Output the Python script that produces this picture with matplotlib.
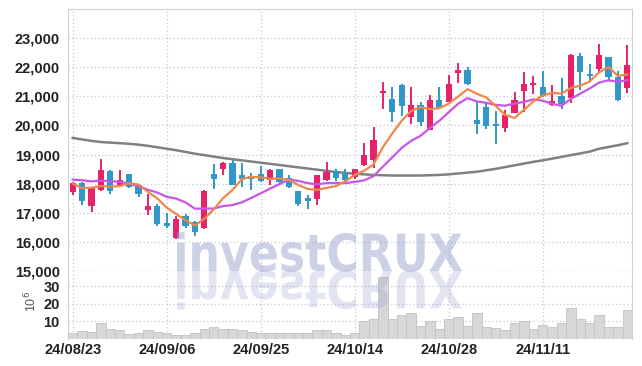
import numpy as np
import matplotlib
matplotlib.use("Agg")
import matplotlib.pyplot as plt
from matplotlib.font_manager import FontProperties
from matplotlib.textpath import TextPath
from matplotlib.patches import PathPatch
from matplotlib.transforms import Affine2D

# daily candles, 24/08/23 .. 24/11/22
opens = [17700, 18020, 17230, 17770, 18425, 17965, 18320, 17940, 17080, 17220,
         16645, 16150, 16900, 16700, 16470, 18330, 18490, 18720, 18310, 18265,
         18345, 18115, 18490, 18195, 17735, 17505, 17480, 18115, 18425, 18345,
         18220, 18635, 18805, 21120, 20925, 21380, 20295, 20695, 19860, 20865,
         20810, 21805, 21900, 20180, 20640, 20040, 19920, 20430, 21175, 21380,
         21310, 20695, 21000, 20945, 22400, 21745, 21950, 22340, 21665, 21290]
highs = [18050, 18050, 17880, 18860, 18460, 18460, 18330, 17950, 17655, 17310,
         16990, 16890, 16960, 16730, 17770, 18690, 18730, 18800, 18720, 18380,
         18610, 18520, 18520, 18310, 17740, 17620, 18300, 18750, 18490, 18520,
         18510, 19380, 19950, 21495, 21325, 21440, 21325, 20810, 21040, 21325,
         21725, 22150, 22010, 20810, 20810, 20490, 20545, 21140, 21835, 21690,
         21880, 21400, 21630, 22440, 22485, 22120, 22790, 22350, 21880, 22750]
lows = [17600, 17250, 17035, 17750, 17630, 17960, 17850, 17540, 16910, 16550,
        16480, 16090, 16480, 16210, 16450, 17830, 18310, 17950, 17885, 17770,
        18070, 17965, 18035, 17850, 17230, 17140, 17275, 18100, 18080, 18055,
        18150, 18620, 18550, 20580, 20120, 20315, 20040, 19970, 19850, 20600,
        20800, 21460, 21400, 19720, 19870, 19350, 19770, 20420, 20465, 21095,
        20990, 20660, 20580, 20775, 21230, 21515, 21800, 21575, 20830, 21120]
closes = [18020, 17390, 17860, 18480, 17735, 18115, 17885, 17630, 17220, 16620,
          16530, 16800, 16540, 16330, 17745, 18170, 18720, 17965, 18170, 18150,
          18080, 18460, 18060, 17885, 17285, 17415, 18290, 18400, 18195, 18115,
          18500, 19000, 19490, 21175, 20465, 20670, 20695, 20120, 20865, 20615,
          21440, 21900, 21415, 20065, 19985, 19980, 20375, 20890, 21425, 21460,
          21000, 20830, 20740, 22430, 21835, 21710, 22405, 21665, 20890, 22085]
volumes = [3.3, 4.6, 4.0, 9.4, 5.5, 5.0, 2.7, 3.3, 5.0, 4.0,
           3.3, 2.5, 2.5, 3.3, 5.5, 6.7, 5.5, 5.9, 5.0, 4.0,
           3.3, 3.3, 3.3, 3.3, 3.3, 3.3, 5.0, 5.0, 3.3, 2.5,
           3.3, 10.1, 11.6, 35.1, 11.3, 13.5, 14.7, 7.4, 10.1, 5.5,
           11.6, 12.8, 7.4, 14.7, 6.7, 6.1, 5.0, 9.0, 10.1, 5.5,
           7.8, 6.7, 9.0, 17.9, 11.6, 9.0, 13.5, 6.7, 6.7, 16.4]

# moving averages as drawn
ma5 = [18000, 17850, 17860, 17920, 17897, 17916, 18015, 17969, 17717, 17494,
       17177, 16960, 16742, 16564, 16789, 17117, 17501, 17786, 18154, 18235,
       18217, 18165, 18183, 18126, 17953, 17820, 17786, 17855, 17917, 18083,
       18300, 18442, 18660, 19256, 19726, 20160, 20499, 20625, 20563, 20593,
       20747, 20988, 21247, 21087, 20961, 20669, 20364, 20259, 20531, 20826,
       21030, 21121, 21091, 21292, 21367, 21509, 21824, 22009, 21701, 21751]
ma10 = [18140, 18115, 18080, 18100, 18090, 18060, 18000, 17910, 17790, 17696,
        17547, 17488, 17356, 17141, 17142, 17147, 17231, 17264, 17359, 17512,
        17667, 17833, 17985, 18140, 18094, 18019, 17976, 18019, 18022, 18018,
        18060, 18114, 18258, 18587, 18905, 19230, 19471, 19643, 19910, 20160,
        20454, 20744, 20936, 20825, 20777, 20708, 20676, 20753, 20809, 20894,
        20850, 20743, 20675, 20912, 21097, 21270, 21473, 21550, 21497, 21559]
ma60 = [19570, 19520, 19470, 19430, 19410, 19390, 19370, 19340, 19300, 19250,
        19200, 19150, 19090, 19030, 18980, 18930, 18880, 18840, 18800, 18760,
        18720, 18680, 18640, 18600, 18560, 18520, 18480, 18440, 18400, 18370,
        18340, 18320, 18300, 18290, 18280, 18280, 18280, 18280, 18290, 18300,
        18320, 18350, 18380, 18410, 18460, 18510, 18570, 18630, 18690, 18750,
        18800, 18860, 18920, 18980, 19040, 19100, 19200, 19260, 19320, 19390]

date_ticks = [0, 10, 20, 30, 40, 50]
date_labels = ['24/08/23', '24/09/06', '24/09/25', '24/10/14', '24/10/28', '24/11/11']

UP = '#e6226b'
DOWN = '#3197c8'
GRID = '#c6c6da'
plt.rcParams['font.family'] = ['Liberation Sans', 'DejaVu Sans']
LS = 10.5

W, H = 642, 366
fig = plt.figure(figsize=(W / 100, H / 100), dpi=100)
left = 68 / W
width = (632 - 68) / W
ax = fig.add_axes([left, (H - 271) / H, width, (271 - 9) / H])
axv = fig.add_axes([left, (H - 339) / H, width, (339 - 271) / H], sharex=ax)

x = np.arange(len(closes))
o = np.array(opens)
c = np.array(closes)
colors = [UP if cc >= oo else DOWN for oo, cc in zip(o, c)]

ax.vlines(x, lows, highs, colors=colors, linewidth=1.4, zorder=3)
body = np.maximum(np.abs(c - o), 40)
ax.bar(x, body, bottom=np.minimum(o, c), width=0.66, color=colors, zorder=4)

ax.plot(x, ma60, color='#808080', linewidth=1.8, zorder=2)
ax.plot(x, ma10, color='#c955ea', linewidth=1.6, zorder=5)
ax.plot(x, ma5, color='#f0874a', linewidth=1.6, zorder=5)

ax.set_xlim(-0.5, len(closes) - 0.5)
ax.set_ylim(15000, 24000)
ax.set_yticks(range(15000, 24000, 1000))
ax.set_yticklabels([f'{v:,}' for v in range(15000, 24000, 1000)])
ax.tick_params(axis='y', length=0, pad=6, labelsize=LS, labelcolor='#222222')
ax.tick_params(axis='x', length=0, labelbottom=False)
for lab in ax.get_yticklabels():
    lab.set_fontweight('bold')
ax.set_xticks(date_ticks)
ax.grid(True, color=GRID, linestyle=(0, (1, 2)), linewidth=0.9)
ax.set_axisbelow(True)
for s in ax.spines.values():
    s.set_color('#d0d0d0')

axv.bar(x, volumes, width=1.0, color='#d7d7d7', edgecolor='#c2c2c2', linewidth=0.6, zorder=3)
axv.set_ylim(0, 38.8)
axv.set_yticks([10, 20, 30])
axv.set_xticks(date_ticks)
axv.set_xticklabels(date_labels)
axv.tick_params(length=0, labelsize=LS, labelcolor='#222222')
axv.tick_params(axis='y', pad=6)
axv.tick_params(axis='x', pad=3)
for lab in axv.get_yticklabels() + axv.get_xticklabels():
    lab.set_fontweight('bold')
axv.grid(True, color=GRID, linestyle=(0, (1, 2)), linewidth=0.9)
axv.set_axisbelow(True)
for s in axv.spines.values():
    s.set_color('#d0d0d0')
axv.spines['top'].set_visible(False)
axv.spines['bottom'].set_visible(False)
fig.text(31 / W, 1 - 301 / H, '10$^6$', rotation=90, ha='center', va='center',
         fontsize=9, color='#555555')

# watermark and its reflection
tp = TextPath((0, 0), 'investCRUX', size=100,
              prop=FontProperties(family='DejaVu Sans', weight='bold'))
bb = tp.get_extents()
x0, x1, base, top = 177, 462, 271, 232
sx = (x1 - x0) / bb.width / W
sy = (base - top) / bb.y1 / H
for sign, alpha in [(1, 0.45), (-1, 0.25)]:
    tr = Affine2D().translate(-bb.x0, 0).scale(sx, sign * sy).translate(x0 / W, (H - base) / H)
    fig.add_artist(PathPatch(tp, transform=tr + fig.transFigure, facecolor='#8f9bc8',
                             edgecolor='none', alpha=alpha, zorder=10))

fig.savefig('out.png', dpi=100, facecolor='white')
